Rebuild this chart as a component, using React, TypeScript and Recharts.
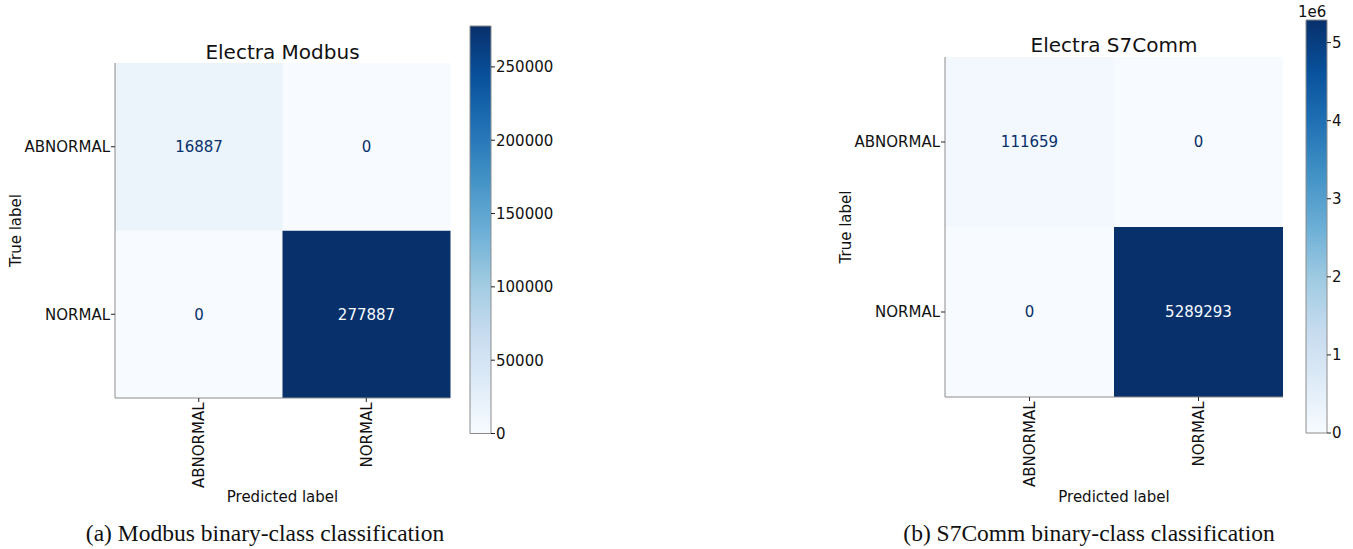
import { Bar, BarChart, Cell, LabelList, XAxis, YAxis } from "recharts";

const classLabels = ["ABNORMAL", "NORMAL"];

// confusion matrices, rows = true label, columns = predicted label
const modbusAbnormalRow = [16887, 0];
const modbusNormalRow = [0, 277887];
const s7commAbnormalRow = [111659, 0];
const s7commNormalRow = [0, 5289293];

const modbusColorbarTicks = [0, 50000, 100000, 150000, 200000, 250000];
const s7commColorbarTicks = [0, 1e6, 2e6, 3e6, 4e6, 5e6];

// matplotlib "Blues"
const BLUES = ["#f7fbff", "#deebf7", "#c6dbef", "#9ecae1", "#6baed6", "#4292c6", "#2171b5", "#08519c", "#08306b"];

const SPINE = "#8c8c8c";
const FONT = "'DejaVu Sans', sans-serif";

function hexToRgb(h: string) {
  const n = parseInt(h.slice(1), 16);
  return [(n >> 16) & 255, (n >> 8) & 255, n & 255];
}

function blues(t: number) {
  const c = Math.max(0, Math.min(1, t)) * (BLUES.length - 1);
  const i = Math.min(Math.floor(c), BLUES.length - 2);
  const f = c - i;
  const a = hexToRgb(BLUES[i]);
  const b = hexToRgb(BLUES[i + 1]);
  const rgb = a.map((v, k) => Math.round(v + (b[k] - v) * f));
  return `rgb(${rgb[0]},${rgb[1]},${rgb[2]})`;
}

type Box = { x: number; y: number; w: number; h: number };

function RotatedTick(props: any) {
  const { x, y, payload } = props;
  return (
    <g>
      <line x1={x} y1={y - 4} x2={x} y2={y} stroke="#222" />
      <text
        x={x}
        y={y + 0.5}
        transform={`rotate(-90 ${x} ${y + 0.5})`}
        textAnchor="end"
        dy="0.36em"
        fontSize={15}
        fill="#111"
        fontFamily={FONT}
      >
        {payload.value}
      </text>
    </g>
  );
}

function countLabel(max: number) {
  return (props: any) => {
    const { x, y, width, height, value } = props;
    const dark = value > max / 2;
    return (
      <text
        x={x + width / 2}
        y={y + height / 2}
        dy="0.36em"
        textAnchor="middle"
        fontSize={15}
        fill={dark ? BLUES[0] : BLUES[8]}
        fontFamily={FONT}
      >
        {value}
      </text>
    );
  };
}

function Matrix({
  title,
  abnormalRow,
  normalRow,
  box,
  titleY,
}: {
  title: string;
  abnormalRow: number[];
  normalRow: number[];
  box: Box;
  titleY: number;
}) {
  const max = Math.max(...abnormalRow, ...normalRow);
  const data = classLabels.map((predicted, j) => ({
    predicted,
    normalSpan: 1,
    abnormalSpan: 1,
    normalCount: normalRow[j],
    abnormalCount: abnormalRow[j],
  }));
  const yAxisW = 115;
  const xAxisH = 502 - (box.y + box.h);
  const width = yAxisW + box.w + 10;

  return (
    <>
      <div
        style={{
          position: "absolute",
          left: box.x + box.w / 2 - 150,
          top: titleY - 12,
          width: 300,
          textAlign: "center",
          fontSize: 20,
          lineHeight: "24px",
          fontFamily: FONT,
          color: "#111",
        }}
      >
        {title}
      </div>
      <div style={{ position: "absolute", left: box.x - yAxisW, top: 0 }}>
        <BarChart
          width={width}
          height={549}
          data={data}
          barCategoryGap={0}
          barGap={0}
          margin={{ top: box.y, right: 10, bottom: 549 - box.y - box.h - xAxisH, left: 0 }}
          style={{ fontFamily: FONT }}
        >
          <XAxis
            dataKey="predicted"
            height={xAxisH}
            interval={0}
            tick={<RotatedTick />}
            tickLine={false}
            tickSize={4}
            tickMargin={0}
            axisLine={{ stroke: SPINE }}
            label={{ value: "Predicted label", position: "insideBottom", offset: 0, fontSize: 15, fill: "#111" }}
          />
          <XAxis xAxisId="top" orientation="top" dataKey="predicted" height={0} tick={false} tickLine={false} axisLine={{ stroke: SPINE }} />
          <YAxis
            type="number"
            domain={[0, 2]}
            ticks={[0.5, 1.5]}
            interval={0}
            width={yAxisW}
            tickFormatter={(v) => (v > 1 ? classLabels[0] : classLabels[1])}
            tick={{ fontSize: 15, fill: "#111" }}
            tickSize={4}
            tickMargin={1}
            tickLine={{ stroke: "#222" }}
            axisLine={{ stroke: SPINE }}
            label={{
              value: "True label",
              angle: -90,
              position: "insideLeft",
              offset: 16,
              fontSize: 15,
              fill: "#111",
              style: { textAnchor: "middle" },
            }}
          />
          <YAxis yAxisId="right" orientation="right" type="number" domain={[0, 2]} width={0} tick={false} tickLine={false} axisLine={{ stroke: SPINE }} />
          <Bar dataKey="normalSpan" stackId="cm" isAnimationActive={false}>
            {normalRow.map((v, j) => (
              <Cell key={j} fill={blues(v / max)} />
            ))}
            <LabelList dataKey="normalCount" content={countLabel(max)} />
          </Bar>
          <Bar dataKey="abnormalSpan" stackId="cm" isAnimationActive={false}>
            {abnormalRow.map((v, j) => (
              <Cell key={j} fill={blues(v / max)} />
            ))}
            <LabelList dataKey="abnormalCount" content={countLabel(max)} />
          </Bar>
        </BarChart>
      </div>
    </>
  );
}

function Colorbar({
  id,
  max,
  ticks,
  box,
  format,
}: {
  id: string;
  max: number;
  ticks: number[];
  box: Box;
  format: (v: number) => string;
}) {
  const left = 10;
  const axisW = 60;
  const width = left + box.w + axisW + 10;
  return (
    <div style={{ position: "absolute", left: box.x - left, top: 0 }}>
      <BarChart
        width={width}
        height={549}
        data={[{ name: "scale", value: max }]}
        barCategoryGap={0}
        margin={{ top: box.y, right: 10, bottom: 549 - box.y - box.h, left }}
        style={{ fontFamily: FONT }}
      >
        <defs>
          <linearGradient id={id} x1="0" y1="1" x2="0" y2="0">
            {BLUES.map((c, i) => (
              <stop key={i} offset={i / (BLUES.length - 1)} stopColor={c} />
            ))}
          </linearGradient>
        </defs>
        <XAxis dataKey="name" hide />
        <YAxis
          orientation="right"
          type="number"
          domain={[0, max]}
          ticks={ticks}
          interval={0}
          width={axisW}
          tickFormatter={format}
          tick={{ fontSize: 15, fill: "#111", textAnchor: "start" }}
          tickSize={4}
          tickMargin={1}
          tickLine={{ stroke: "#222" }}
          axisLine={false}
        />
        <Bar dataKey="value" fill={`url(#${id})`} stroke={SPINE} strokeWidth={1} isAnimationActive={false} />
      </BarChart>
    </div>
  );
}

function Caption({ text, cx }: { text: string; cx: number }) {
  return (
    <div
      style={{
        position: "absolute",
        left: cx - 250,
        top: 519,
        width: 500,
        textAlign: "center",
        fontFamily: "'Liberation Serif', 'Times New Roman', serif",
        fontSize: 23.5,
        lineHeight: "28px",
        color: "#111",
      }}
    >
      {text}
    </div>
  );
}

export default function App() {
  return (
    <div style={{ position: "absolute", left: 0, top: 0, width: 1353, height: 549, background: "#fff", overflow: "hidden" }}>
      <Matrix
        title="Electra Modbus"
        abnormalRow={modbusAbnormalRow}
        normalRow={modbusNormalRow}
        box={{ x: 115, y: 63, w: 335, h: 335 }}
        titleY={52}
      />
      <Colorbar
        id="cb-modbus"
        max={Math.max(...modbusAbnormalRow, ...modbusNormalRow)}
        ticks={modbusColorbarTicks}
        box={{ x: 470, y: 26, w: 21, h: 407.5 }}
        format={(v) => String(v)}
      />
      <Matrix
        title="Electra S7Comm"
        abnormalRow={s7commAbnormalRow}
        normalRow={s7commNormalRow}
        box={{ x: 945, y: 57, w: 338, h: 340 }}
        titleY={45}
      />
      <Colorbar
        id="cb-s7comm"
        max={Math.max(...s7commAbnormalRow, ...s7commNormalRow)}
        ticks={s7commColorbarTicks}
        box={{ x: 1306, y: 20, w: 21, h: 413 }}
        format={(v) => String(v / 1e6)}
      />
      <div style={{ position: "absolute", left: 1298, top: 3, fontFamily: FONT, fontSize: 15, lineHeight: "18px", color: "#111" }}>
        1e6
      </div>
      <Caption text="(a) Modbus binary-class classification" cx={265} />
      <Caption text="(b) S7Comm binary-class classification" cx={1089} />
    </div>
  );
}
